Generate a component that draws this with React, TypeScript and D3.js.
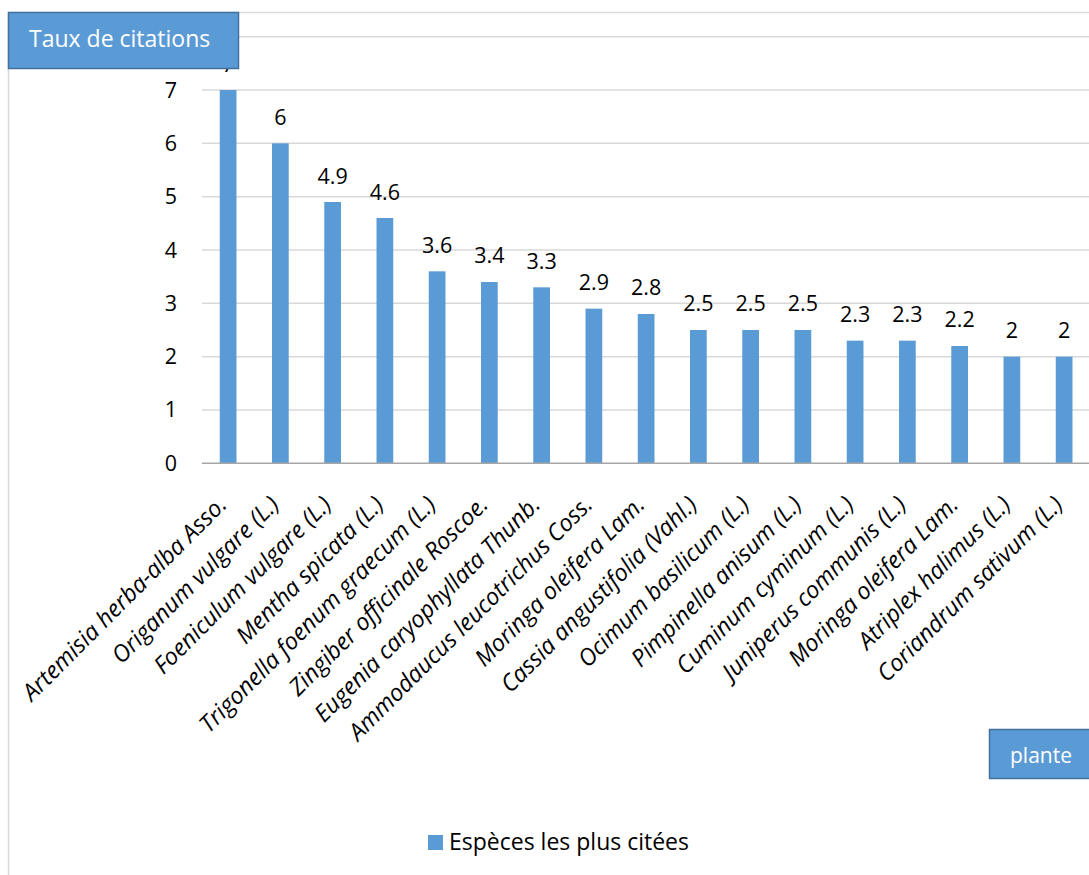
import React from "react";
import * as d3 from "d3";

const species = [
  "Artemisia herba-alba Asso.",
  "Origanum vulgare (L.)",
  "Foeniculum vulgare (L.)",
  "Mentha spicata (L.)",
  "Trigonella foenum graecum (L.)",
  "Zingiber officinale Roscoe.",
  "Eugenia caryophyllata Thunb.",
  "Ammodaucus leucotrichus Coss.",
  "Moringa oleifera Lam.",
  "Cassia angustifolia (Vahl.)",
  "Ocimum basilicum (L.)",
  "Pimpinella anisum (L.)",
  "Cuminum cyminum (L.)",
  "Juniperus communis (L.)",
  "Moringa oleifera Lam.",
  "Atriplex halimus (L.)",
  "Coriandrum sativum (L.)",
];

const rates = [7, 6, 4.9, 4.6, 3.6, 3.4, 3.3, 2.9, 2.8, 2.5, 2.5, 2.5, 2.3, 2.3, 2.2, 2, 2];

// gridlines run up to 8; its label sits under the title box
const gridTicks = [1, 2, 3, 4, 5, 6, 7, 8];
const labelTicks = [0, 1, 2, 3, 4, 5, 6, 7];

const seriesName = "Espèces les plus citées";
const yTitle = "Taux de citations";
const xTitle = "plante";

const W = 1089;
const H = 875;
const BLUE = "#5B9BD5";
const BLUE_EDGE = "#41719C";
const GRID = "#D9D9D9";
const FONT = "'Open Sans', Lato, sans-serif";

export default function App() {
  const plotLeft = 202;
  const step = 52.25;
  const plotRight = plotLeft + step * species.length;

  const x = d3
    .scaleBand<number>()
    .domain(d3.range(species.length))
    .range([plotLeft, plotRight])
    .paddingInner(0.68)
    .paddingOuter(0.34);

  const y = d3.scaleLinear().domain([0, 8]).range([463.3, 36.7]);

  return (
    <svg
      width={W}
      height={H}
      style={{ position: "absolute", left: 0, top: 0, background: "#fff" }}
      fontFamily={FONT}
    >
      {/* chart frame */}
      <line x1={8.5} y1={12.5} x2={W} y2={12.5} stroke={GRID} strokeWidth={1.5} />
      <line x1={8.5} y1={12.5} x2={8.5} y2={H} stroke={GRID} strokeWidth={1.5} />

      {/* gridlines */}
      {gridTicks.map((t) => (
        <line key={t} x1={plotLeft} x2={W} y1={y(t)} y2={y(t)} stroke={GRID} strokeWidth={1.5} />
      ))}

      {/* y tick labels */}
      {labelTicks.map((t) => (
        <text key={t} x={177} y={y(t) + 7.5} textAnchor="end" fontSize={21.5} fill="#000">
          {t}
        </text>
      ))}

      {/* bars */}
      {rates.map((v, i) => (
        <rect
          key={i}
          x={x(i)}
          y={y(v)}
          width={x.bandwidth()}
          height={y(0) - y(v)}
          fill={BLUE}
        />
      ))}

      {/* baseline axis */}
      <line x1={plotLeft} x2={W} y1={y(0)} y2={y(0)} stroke="#A6A6A6" strokeWidth={1.5} />

      {/* value labels */}
      {rates.map((v, i) => (
        <text
          key={i}
          x={(x(i) as number) + x.bandwidth() / 2}
          y={y(v) - 18.5}
          textAnchor="middle"
          fontSize={21.5}
          fill="#000"
        >
          {v}
        </text>
      ))}

      {/* category labels */}
      {species.map((s, i) => {
        const cx = (x(i) as number) + x.bandwidth() / 2;
        return (
          <text
            key={i}
            transform={`translate(${cx},${506}) rotate(-45)`}
            textAnchor="end"
            fontSize={23.5}
            fontStyle="italic"
            fill="#000"
          >
            {s}
          </text>
        );
      })}

      {/* y axis title box */}
      <rect x={8.5} y={12.5} width={230} height={56} fill={BLUE} stroke={BLUE_EDGE} strokeWidth={1.5} />
      <text x={29} y={47} fontSize={23} fill="#fff">
        {yTitle}
      </text>

      {/* x axis title box */}
      <rect x={989.5} y={729.5} width={110} height={49} fill={BLUE} stroke={BLUE_EDGE} strokeWidth={1.5} />
      <text x={1010} y={763} fontSize={21} fill="#fff">
        {xTitle}
      </text>

      {/* legend */}
      <rect x={428} y={835} width={15} height={15} fill={BLUE} />
      <text x={449} y={850} fontSize={23} fill="#000">
        {seriesName}
      </text>
    </svg>
  );
}
